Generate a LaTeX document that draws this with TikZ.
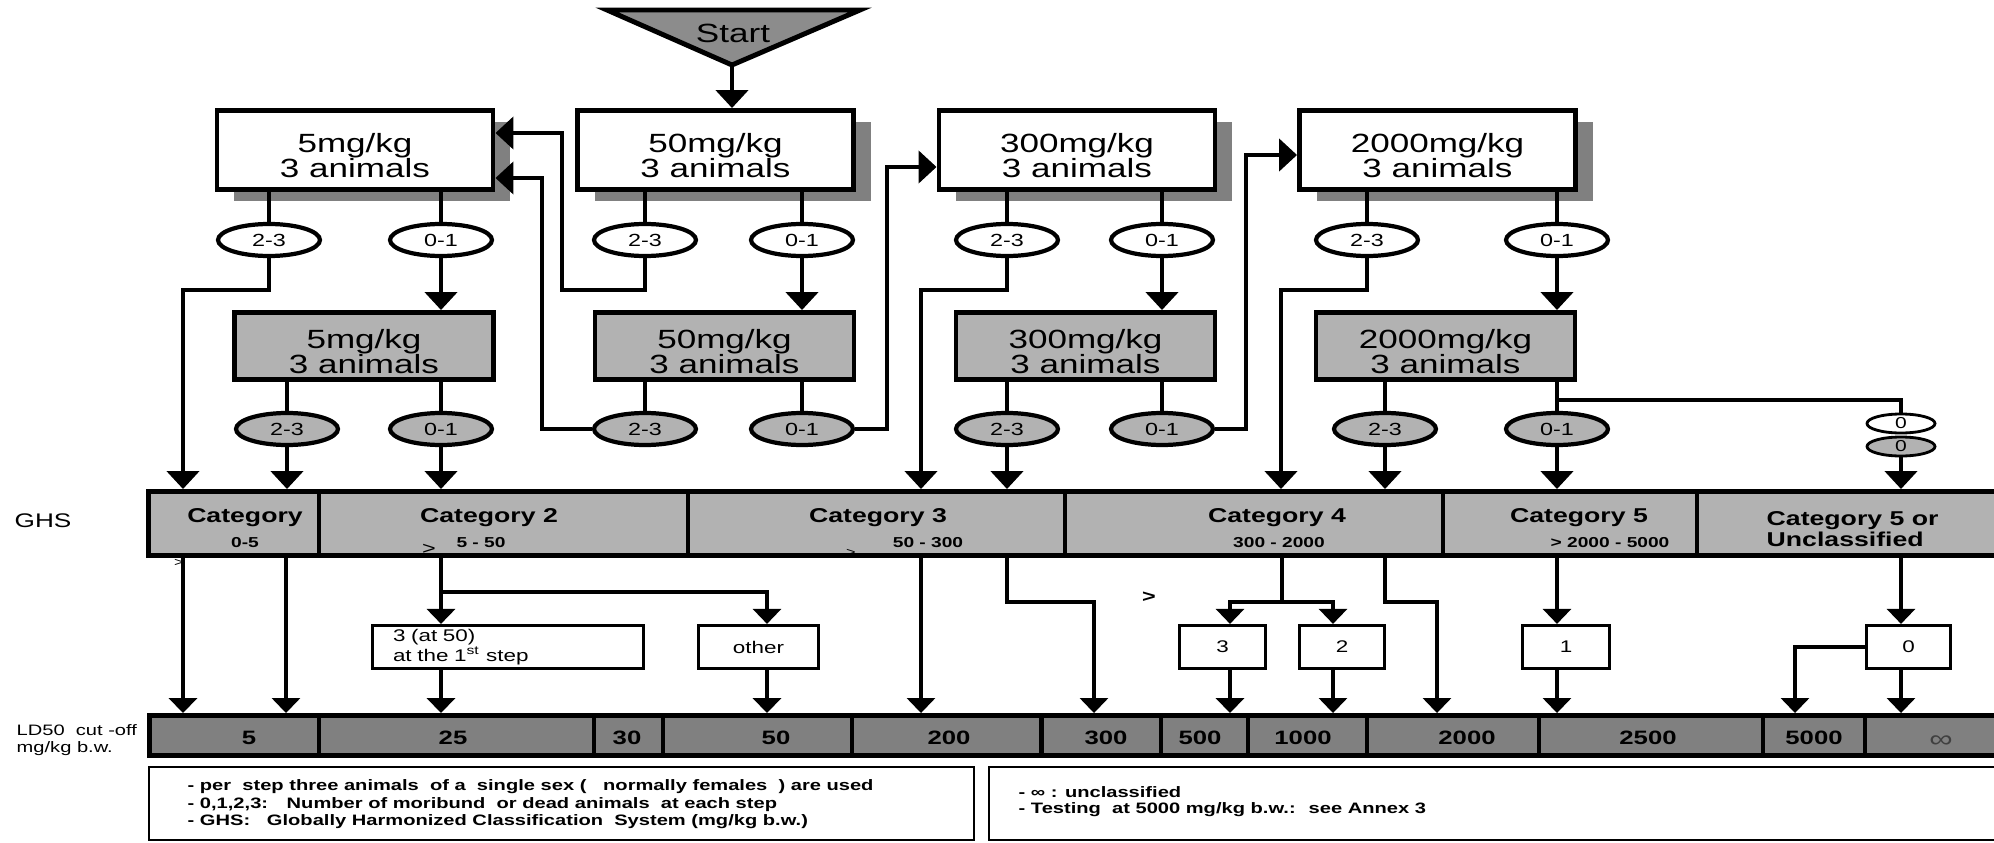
\documentclass[tikz,border=0pt]{standalone}
\usepackage{fontspec}
\setmainfont{Liberation Sans}[FakeStretch=1.33]
\usetikzlibrary{positioning, arrows.meta, shapes.geometric, shadows}

\newcommand{\boxstrut}{\rule{0pt}{0.31cm}}

\tikzset{
  thk/.style={line width=1.4pt},
  thn/.style={line width=0.9pt},
  arr/.style={-{Triangle[width=0.32cm,length=0.18cm]}},
  arrs/.style={-{Triangle[width=0.28cm,length=0.15cm]}},
  topbox/.style={draw, thk, fill=white, minimum width=2.76cm, minimum height=0.79cm,
    inner sep=0pt, align=center, font=\fontsize{7.5}{7.1}\selectfont,
    drop shadow={shadow xshift=0.17cm, shadow yshift=-0.115cm, fill=black!50, opacity=1}},
  lowbox/.style={draw, thk, fill=black!30, minimum width=2.59cm, minimum height=0.67cm,
    inner sep=0pt, align=center, font=\fontsize{7.5}{7.1}\selectfont},
  topoval/.style={ellipse, draw, line width=1.2pt, fill=white, minimum width=1.02cm,
    minimum height=0.32cm, inner sep=0pt, font=\fontsize{5}{6}\selectfont},
  lowoval/.style={topoval, fill=black!30},
  zerooval/.style={ellipse, draw, line width=0.8pt, minimum width=0.68cm, minimum height=0.19cm,
    inner sep=0pt, font=\fontsize{4.5}{5}\selectfont},
  resbox/.style={draw, line width=0.9pt, fill=white, minimum height=0.43cm, inner sep=0pt,
    font=\fontsize{4.8}{5.6}\selectfont},
  catlabel/.style={font=\bfseries\fontsize{5.7}{6.1}\selectfont, inner sep=0pt},
  rangelabel/.style={font=\bfseries\fontsize{4.1}{5}\selectfont, inner sep=0pt},
  ldlabel/.style={font=\bfseries\fontsize{5.5}{6}\selectfont, inner sep=0pt},
  notetext/.style={font=\bfseries\fontsize{4.3}{5.1}\selectfont, inner sep=0pt, anchor=west},
}

\begin{document}
\begin{tikzpicture}
\useasboundingbox (0,0) rectangle (19.94,8.42);

% --- Start ---
\draw[thk, fill=black!45] (6.07,8.32)--(8.60,8.32)--(7.32,7.77)--cycle;
\node[font=\fontsize{7.5}{8}\selectfont] (start) at (7.33,8.09) {Start};
\coordinate (tip) at (7.32,7.77);

% --- First step boxes ---
\node[topbox] (b1) at (3.55,6.92) {\boxstrut 5mg/kg\\3 animals};
\node[topbox] (b2) at (7.155,6.92) {\boxstrut 50mg/kg\\3 animals};
\node[topbox] (b3) at (10.77,6.92) {\boxstrut 300mg/kg\\3 animals};
\node[topbox] (b4) at (14.375,6.92) {\boxstrut 2000mg/kg\\3 animals};

% --- Second step boxes ---
\node[lowbox] (l1) at (3.64,4.96) {\boxstrut 5mg/kg\\3 animals};
\node[lowbox] (l2) at (7.245,4.96) {\boxstrut 50mg/kg\\3 animals};
\node[lowbox] (l3) at (10.855,4.96) {\boxstrut 300mg/kg\\3 animals};
\node[lowbox] (l4) at (14.455,4.96) {\boxstrut 2000mg/kg\\3 animals};

% --- Outcomes after first step ---
\node[topoval] (t1a) at (2.69,6.02) {2-3};
\node[topoval] (t1b) at (4.41,6.02) {0-1};
\node[topoval] (t2a) at (6.45,6.02) {2-3};
\node[topoval] (t2b) at (8.02,6.02) {0-1};
\node[topoval] (t3a) at (10.07,6.02) {2-3};
\node[topoval] (t3b) at (11.62,6.02) {0-1};
\node[topoval] (t4a) at (13.67,6.02) {2-3};
\node[topoval] (t4b) at (15.57,6.02) {0-1};

% --- Outcomes after second step ---
\node[lowoval] (m1a) at (2.87,4.13) {2-3};
\node[lowoval] (m1b) at (4.41,4.13) {0-1};
\node[lowoval] (m2a) at (6.45,4.13) {2-3};
\node[lowoval] (m2b) at (8.02,4.13) {0-1};
\node[lowoval] (m3a) at (10.07,4.13) {2-3};
\node[lowoval] (m3b) at (11.62,4.13) {0-1};
\node[lowoval] (m4a) at (13.85,4.13) {2-3};
\node[lowoval] (m4b) at (15.57,4.13) {0-1};
\node[zerooval, fill=white] (z1) at (19.01,4.185) {0};
\node[zerooval, fill=black!30] (z2) at (19.01,3.955) {0};

% --- GHS bar ---
\node[draw, thk, fill=black!30, minimum width=18.615cm, minimum height=0.64cm, inner sep=0pt] (ghs) at (10.79,3.185) {};
\draw[thk] (3.19,0 |- ghs.north) -- (3.19,0 |- ghs.south);
\draw[thk] (6.88,0 |- ghs.north) -- (6.88,0 |- ghs.south);
\draw[thk] (10.65,0 |- ghs.north) -- (10.65,0 |- ghs.south);
\draw[thk] (14.43,0 |- ghs.north) -- (14.43,0 |- ghs.south);
\draw[thk] (16.97,0 |- ghs.north) -- (16.97,0 |- ghs.south);
\node[font=\fontsize{5.6}{6}\selectfont] (ghslbl) at (0.43,3.21) {GHS};
\node[catlabel] (c1) at (2.45,3.24) {Category};
\node[rangelabel] (c1r) at (2.45,2.99) {0-5};
\node[catlabel] (c2) at (4.89,3.24) {Category 2};
\node[rangelabel] (c2r) at (4.81,2.99) {5 - 50};
\node[font=\fontsize{5}{5}\selectfont, inner sep=0pt] (c2g) at (4.29,2.93) {>};
\node[catlabel] (c3) at (8.78,3.24) {Category 3};
\node[rangelabel] (c3r) at (9.28,2.99) {50 - 300};
\node[font=\fontsize{3.5}{4}\selectfont, inner sep=0pt] (c3g) at (8.51,2.89) {>};
\node[catlabel] (c4) at (12.77,3.24) {Category 4};
\node[rangelabel] (c4r) at (12.79,2.99) {300 - 2000};
\node[catlabel] (c5) at (15.79,3.24) {Category 5};
\node[rangelabel] (c5r) at (16.10,2.99) {> 2000 - 5000};
\node[catlabel, align=left, anchor=west] (c6) at (17.66,3.13) {Category 5 or\\Unclassified};

% --- Results ---
\node[resbox, text width=2.30cm, inner xsep=0.205cm, align=left] (r50) at (5.08,1.95) {3 (at 50)\\at the 1\textsuperscript{st} step};
\node[resbox, minimum width=1.20cm] (rother) at (7.585,1.95) {other};
\node[resbox, minimum width=0.86cm] (rr3) at (12.225,1.95) {3};
\node[resbox, minimum width=0.85cm] (rr2) at (13.42,1.95) {2};
\node[resbox, minimum width=0.87cm] (rr1) at (15.66,1.95) {1};
\node[resbox, minimum width=0.84cm] (rr0) at (19.085,1.95) {0};
\node[font=\fontsize{3.5}{4}\selectfont, inner sep=0pt] (g1) at (1.79,2.79) {>};
\node[font=\bfseries\fontsize{5}{5}\selectfont, inner sep=0pt] (g4) at (11.49,2.45) {>};

% --- LD50 bar ---
\node[draw, thk, fill=black!50, minimum width=18.605cm, minimum height=0.40cm, inner sep=0pt] (ld) at (10.7975,1.065) {};
\draw[line width=1.2pt] (3.19,0 |- ld.north) -- (3.19,0 |- ld.south);
\draw[line width=1.2pt] (5.94,0 |- ld.north) -- (5.94,0 |- ld.south);
\draw[line width=1.2pt] (6.63,0 |- ld.north) -- (6.63,0 |- ld.south);
\draw[line width=1.2pt] (8.52,0 |- ld.north) -- (8.52,0 |- ld.south);
\draw[line width=1.2pt] (10.415,0 |- ld.north) -- (10.415,0 |- ld.south);
\draw[line width=1.2pt] (11.61,0 |- ld.north) -- (11.61,0 |- ld.south);
\draw[line width=1.2pt] (12.48,0 |- ld.north) -- (12.48,0 |- ld.south);
\draw[line width=1.2pt] (13.67,0 |- ld.north) -- (13.67,0 |- ld.south);
\draw[line width=1.2pt] (15.39,0 |- ld.north) -- (15.39,0 |- ld.south);
\draw[line width=1.2pt] (17.63,0 |- ld.north) -- (17.63,0 |- ld.south);
\draw[line width=1.2pt] (18.65,0 |- ld.north) -- (18.65,0 |- ld.south);
\node[font=\fontsize{4.3}{4.8}\selectfont, align=left, anchor=west, inner sep=0pt] (ldlbl) at (0.16,1.015) {LD50~ cut -off\\mg/kg b.w.};
\node[ldlabel] (v5) at (2.49,1.04) {5};
\node[ldlabel] (v25) at (4.53,1.04) {25};
\node[ldlabel] (v30) at (6.27,1.04) {30};
\node[ldlabel] (v50) at (7.76,1.04) {50};
\node[ldlabel] (v200) at (9.49,1.04) {200};
\node[ldlabel] (v300) at (11.06,1.04) {300};
\node[ldlabel] (v500) at (12.00,1.04) {500};
\node[ldlabel] (v1000) at (13.03,1.04) {1000};
\node[ldlabel] (v2000) at (14.67,1.04) {2000};
\node[ldlabel] (v2500) at (16.48,1.04) {2500};
\node[ldlabel] (v5000) at (18.14,1.04) {5000};
\node[font=\fontsize{7}{7}\selectfont, text=black!75, inner sep=0pt] (vinf) at (19.41,1.00) {∞};

% --- Notes ---
\node[draw, line width=0.6pt, minimum width=8.25cm, minimum height=0.73cm, inner sep=0pt] (notesL) at (5.615,0.385) {};
\node[draw, line width=0.6pt, minimum width=10.21cm, minimum height=0.73cm, inner sep=0pt] (notesR) at (14.995,0.385) {};
\node[notetext] (n1) at (1.87,0.55) {- per~ step three animals~ of a~ single sex (~~ normally females~ ) are used};
\node[notetext] (n2) at (1.87,0.37) {- 0,1,2,3:~~ Number of moribund~ or dead animals~ at each step};
\node[notetext] (n3) at (1.87,0.20) {- GHS:~~ Globally Harmonized Classification~ System (mg/kg b.w.)};
\node[notetext] (n4) at (10.18,0.50) {- ∞ : unclassified};
\node[notetext] (n5) at (10.18,0.32) {- Testing~ at 5000 mg/kg b.w.:~ see Annex 3};

% --- Connectors: first step ---
\draw[thk,arr] (tip) -- (tip |- b2.north);
\draw[thk] (t1a.north) -- (t1a.north |- b1.south);
\draw[thk] (t1b.north) -- (t1b.north |- b1.south);
\draw[thk] (t2a.north) -- (t2a.north |- b2.south);
\draw[thk] (t2b.north) -- (t2b.north |- b2.south);
\draw[thk] (t3a.north) -- (t3a.north |- b3.south);
\draw[thk] (t3b.north) -- (t3b.north |- b3.south);
\draw[thk] (t4a.north) -- (t4a.north |- b4.south);
\draw[thk] (t4b.north) -- (t4b.north |- b4.south);
\draw[thk,arr] (t1b.south) -- (t1b.south |- l1.north);
\draw[thk,arr] (t2b.south) -- (t2b.south |- l2.north);
\draw[thk,arr] (t3b.south) -- (t3b.south |- l3.north);
\draw[thk,arr] (t4b.south) -- (t4b.south |- l4.north);
\draw[thk,arr] (t1a.south) |- (1.83,5.52) -- (1.83,0 |- ghs.north);
\draw[thk,arr] (t2a.south) |- (5.62,5.52) |- (b1.east |- 0,7.09);
\draw[thk,arr] (t3a.south) |- (9.21,5.52) -- (9.21,0 |- ghs.north);
\draw[thk,arr] (t4a.south) |- (12.81,5.52) -- (12.81,0 |- ghs.north);

% --- Connectors: second step ---
\draw[thk] (m1a.north) -- (m1a.north |- l1.south);
\draw[thk] (m1b.north) -- (m1b.north |- l1.south);
\draw[thk] (m2a.north) -- (m2a.north |- l2.south);
\draw[thk] (m2b.north) -- (m2b.north |- l2.south);
\draw[thk] (m3a.north) -- (m3a.north |- l3.south);
\draw[thk] (m3b.north) -- (m3b.north |- l3.south);
\draw[thk] (m4a.north) -- (m4a.north |- l4.south);
\draw[thk] (m4b.north) -- (m4b.north |- l4.south);
\draw[thk,arr] (m2a.west) -| (5.42,6.64) -- (b1.east |- 0,6.64);
\draw[thk,arr] (m2b.east) -| (8.87,6.75) -- (b3.west |- 0,6.75);
\draw[thk,arr] (m3b.east) -| (12.46,6.87) -- (b4.west |- 0,6.87);
\draw[thk,arr] (m1a.south) -- (m1a.south |- ghs.north);
\draw[thk,arr] (m1b.south) -- (m1b.south |- ghs.north);
\draw[thk,arr] (m3a.south) -- (m3a.south |- ghs.north);
\draw[thk,arr] (m4a.south) -- (m4a.south |- ghs.north);
\draw[thk,arr] (m4b.south) -- (m4b.south |- ghs.north);
\draw[thk] (m4b.north |- 0,4.42) -| (z1.north);
\draw[thk,arr] (z2.south) -- (z2.south |- ghs.north);

% --- Connectors: GHS to LD50 ---
\draw[thk,arrs] (1.83,0 |- ghs.south) -- (1.83,0 |- ld.north);
\draw[thn,arrs] (2.86,0 |- ghs.south) -- (2.86,0 |- ld.north);
\draw[thk,arrs] (4.41,0 |- ghs.south) -- (4.41,0 |- r50.north);
\draw[thn,arrs] (4.41,2.50) -| (7.67,0 |- rother.north);
\draw[thk,arrs] (4.41,0 |- r50.south) -- (4.41,0 |- ld.north);
\draw[thk,arrs] (7.67,0 |- rother.south) -- (7.67,0 |- ld.north);
\draw[thn,arrs] (9.21,0 |- ghs.south) -- (9.21,0 |- ld.north);
\draw[thn,arrs] (10.07,0 |- ghs.south) |- (10.94,2.40) -- (10.94,0 |- ld.north);
\draw[thn,arrs] (12.82,0 |- ghs.south) |- (12.30,2.40) -- (12.30,0 |- rr3.north);
\draw[thn,arrs] (12.82,2.40) -| (13.33,0 |- rr2.north);
\draw[thk,arrs] (12.30,0 |- rr3.south) -- (12.30,0 |- ld.north);
\draw[thn,arrs] (13.33,0 |- rr2.south) -- (13.33,0 |- ld.north);
\draw[thn,arrs] (13.85,0 |- ghs.south) |- (14.37,2.40) -- (14.37,0 |- ld.north);
\draw[thn,arrs] (15.57,0 |- ghs.south) -- (15.57,0 |- rr1.north);
\draw[thn,arrs] (15.57,0 |- rr1.south) -- (15.57,0 |- ld.north);
\draw[thn,arrs] (19.01,0 |- ghs.south) -- (19.01,0 |- rr0.north);
\draw[thn,arrs] (19.01,0 |- rr0.south) -- (19.01,0 |- ld.north);
\draw[thn,arrs] (rr0.west) -| (17.95,0 |- ld.north);
\end{tikzpicture}
\end{document}
